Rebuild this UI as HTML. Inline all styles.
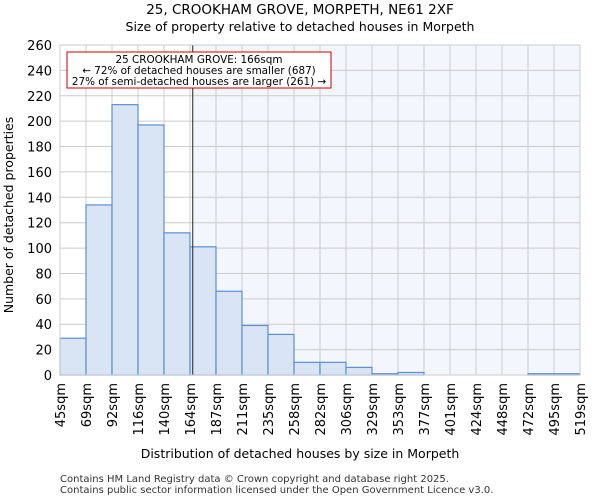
<!DOCTYPE html>
<html><head><meta charset="utf-8"><style>
body{margin:0;background:#fff;font-family:"DejaVu Sans","Liberation Sans",sans-serif;}
</style></head><body>
<svg width="600" height="500" xmlns="http://www.w3.org/2000/svg" font-family="DejaVu Sans, Liberation Sans, sans-serif">
<text x="300" y="14" text-anchor="middle" font-size="13.5">25, CROOKHAM GROVE, MORPETH, NE61 2XF</text>
<text x="300" y="31" text-anchor="middle" font-size="12.5">Size of property relative to detached houses in Morpeth</text>
<g id="plot"></g>
<text x="300" y="458" text-anchor="middle" font-size="12.5">Distribution of detached houses by size in Morpeth</text>
<text x="13" y="215" text-anchor="middle" font-size="12.5" transform="rotate(-90 13 215)">Number of detached properties</text>
<text x="60" y="482" font-size="10" fill="#333">Contains HM Land Registry data © Crown copyright and database right 2025.</text>
<text x="60" y="493" font-size="10" fill="#333">Contains public sector information licensed under the Open Government Licence v3.0.</text>
</svg>
<script>
const categories=["45sqm","69sqm","92sqm","116sqm","140sqm","164sqm","187sqm","211sqm","235sqm","258sqm","282sqm","306sqm","329sqm","353sqm","377sqm","401sqm","424sqm","448sqm","472sqm","495sqm","519sqm"];
const values=[29,134,213,197,112,101,66,39,32,10,10,6,1,2,0,0,0,0,1,1];
const yTicks=[0,20,40,60,80,100,120,140,160,180,200,220,240,260];
const marker=166;
const binStart=45, binWidth=23.7;
const NS="http://www.w3.org/2000/svg";
const g=document.getElementById('plot');
const L=60,R=580,T=45,B=375,yMax=260;
const n=values.length, bw=(R-L)/n;
const x=i=>L+i*bw;
const y=v=>B-(v/yMax)*(B-T);
const xs=s=>L+((s-binStart)/binWidth)*bw;
function mk(t,a,p){const e=document.createElementNS(NS,t);for(const k in a)e.setAttribute(k,a[k]);(p||g).appendChild(e);return e;}
const mx=xs(marker);
let e=mk('rect',{x:mx,y:T,width:R-mx,height:B-T,fill:'#f3f6fd'});


yTicks.forEach(t=>{
 let l=mk('line',{x1:L,x2:R,y1:y(t),y2:y(t),stroke:'#ccc','stroke-width':1});
 
 
 let tx=mk('text',{x:L-8,y:y(t)+5,'text-anchor':'end','font-size':13});
 tx.textContent=t;
 
 
});
categories.forEach((c,i)=>{
 let l=mk('line',{x1:x(i),x2:x(i),y1:T,y2:B,stroke:'#ccc','stroke-width':1});
 
 
 let tx=mk('text',{x:x(i)+5,y:B+8,'text-anchor':'end','font-size':13,transform:`rotate(-90 ${x(i)+5} ${B+8})`});
 tx.textContent=c;
 
 
});
values.forEach((v,i)=>{
 let r=mk('rect',{x:x(i),y:y(v),width:bw,height:B-y(v),fill:'#d9e4f5',stroke:'#5b8fd6','stroke-width':1.2});
 
 
});
e=mk('line',{x1:mx,x2:mx,y1:T,y2:B,stroke:'#222','stroke-width':1});


e=mk('rect',{x:67,y:52,width:264,height:36,fill:'#fff',stroke:'#c00','stroke-width':1});


[["25 CROOKHAM GROVE: 166sqm",63],["← 72% of detached houses are smaller (687)",74],["27% of semi-detached houses are larger (261) →",85]].forEach(([s,yy])=>{
 let t=mk('text',{x:199,y:yy,'text-anchor':'middle','font-size':10.4});
 t.textContent=s;
 
 
});
e=mk('rect',{x:L,y:T,width:R-L,height:B-T,fill:'none',stroke:'#ccc'});


</script>
</body></html>
